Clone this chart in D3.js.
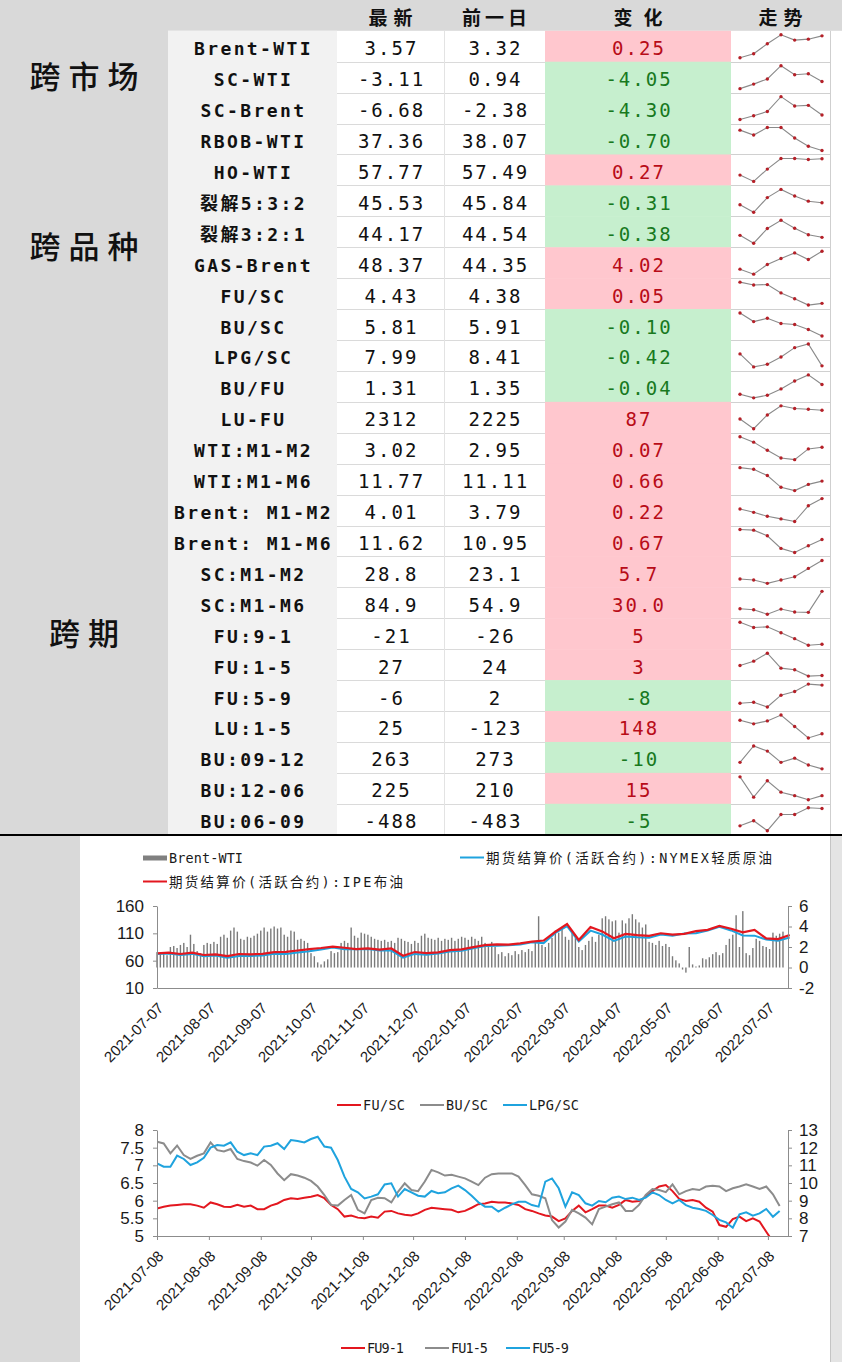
<!DOCTYPE html>
<html>
<head>
<meta charset="utf-8">
<script src="https://cdn.jsdelivr.net/npm/d3@7"></script>
<style>
  body { margin: 0; background: #fff; }
  svg { display: block; }
</style>
</head>
<body>
<div id="chart"></div>
<script>
// ---------- table data ----------
var names = ["Brent-WTI", "SC-WTI", "SC-Brent", "RBOB-WTI", "HO-WTI", "裂解5:3:2", "裂解3:2:1", "GAS-Brent",
    "FU/SC", "BU/SC", "LPG/SC", "BU/FU", "LU-FU", "WTI:M1-M2", "WTI:M1-M6", "Brent: M1-M2", "Brent: M1-M6",
    "SC:M1-M2", "SC:M1-M6", "FU:9-1", "FU:1-5", "FU:5-9", "LU:1-5", "BU:09-12", "BU:12-06", "BU:06-09"];
var latest = ["3.57", "-3.11", "-6.68", "37.36", "57.77", "45.53", "44.17", "48.37", "4.43", "5.81", "7.99", "1.31",
    "2312", "3.02", "11.77", "4.01", "11.62", "28.8", "84.9", "-21", "27", "-6", "25", "263", "225", "-488"];
var previous = ["3.32", "0.94", "-2.38", "38.07", "57.49", "45.84", "44.54", "44.35", "4.38", "5.91", "8.41", "1.35",
    "2225", "2.95", "11.11", "3.79", "10.95", "23.1", "54.9", "-26", "24", "2", "-123", "273", "210", "-483"];
var change = ["0.25", "-4.05", "-4.30", "-0.70", "0.27", "-0.31", "-0.38", "4.02", "0.05", "-0.10", "-0.42", "-0.04",
    "87", "0.07", "0.66", "0.22", "0.67", "5.7", "30.0", "5", "3", "-8", "148", "-10", "15", "-5"];
var headers = ["最新", "前一日", "变化", "走势"];
var groups = [
    { label: "跨市场", from: 0, to: 2 },
    { label: "跨品种", from: 3, to: 10 },
    { label: "跨期", from: 13, to: 25 }
];
// last 7 observations per row (走势)
var trend = [
    [1.92, 2.22, 2.97, 3.65, 3.25, 3.32, 3.57],
    [-6.83, -4.46, -1.76, 5.17, 0.44, 0.94, -3.11],
    [-8.68, -6.97, -5.14, 1.47, -2.68, -2.38, -6.68],
    [40.75, 39.93, 41.18, 41.18, 39.43, 38.07, 37.36],
    [50.91, 48.25, 53.43, 57.91, 57.91, 57.49, 57.77],
    [45.16, 43.73, 46.52, 48.07, 46.83, 45.84, 45.53],
    [44.45, 43.34, 45.41, 46.56, 45.45, 44.54, 44.17],
    [39.68, 37.26, 41.93, 44.83, 47.57, 44.35, 48.37],
    [5.04, 4.96, 4.97, 4.73, 4.56, 4.38, 4.43],
    [6.16, 6.03, 6.08, 6.0, 5.985, 5.91, 5.81],
    [8.22, 7.97, 8.02, 8.16, 8.34, 8.41, 7.99],
    [1.27, 1.255, 1.266, 1.292, 1.325, 1.35, 1.31],
    [2125, 1980, 2185, 2320, 2280, 2270, 2255],
    [3.47, 3.24, 2.89, 2.56, 2.49, 2.95, 3.02],
    [14.48, 14.15, 12.89, 10.52, 9.86, 11.11, 11.77],
    [3.69, 3.59, 3.47, 3.39, 3.31, 3.79, 4.01],
    [12.68, 12.61, 12.01, 10.67, 10.24, 10.95, 11.62],
    [15.5, 14.8, 12.45, 14.8, 17.15, 23.1, 28.8],
    [60.1, 58.7, 52.2, 59.6, 55.5, 54.9, 84.9],
    [91, 64, 67.5, 37.5, 7.4, -26, -21],
    [72, 91.5, 127.5, 60, 52.5, 24, 27],
    [-150, -142, -180, -86, -57, 2, -6],
    [492, 367, 470, 675, 276, -123, 25],
    [280, 323, 309.5, 280, 291, 273, 263],
    [293, 219.5, 279, 237.6, 225, 210, 225],
    [-623, -583, -660.5, -535.5, -535.5, -483, -488]
];

// ---------- chart 1 data: weekly settles from 2021-07-07, spread every 2 days ----------
var brent = [73.4, 74.8, 72.2, 74.7, 70.4, 71.4, 68.2, 72.2, 71.6, 72.6, 75.5, 76.2, 78.6, 81.1, 83.2, 85.8, 83.6, 81.0,
    82.6, 80.3, 82.3, 68.9, 75.8, 73.9, 75.3, 79.2, 80.8, 84.7, 88.4, 89.9, 89.5, 91.6, 94.8, 96.8, 112.9, 127.0, 98.0,
    121.6, 113.5, 101.1, 108.8, 106.8, 105.3, 110.1, 107.5, 109.1, 114.0, 116.3, 123.6, 118.5, 111.7, 116.3, 100.7, 99.6, 106.9];
var wti = [72.2, 73.1, 70.3, 72.4, 68.2, 69.3, 65.5, 68.4, 68.6, 69.3, 72.6, 72.2, 74.8, 77.4, 80.4, 83.9, 81.0, 80.9,
    81.3, 78.4, 78.4, 65.6, 72.4, 70.9, 73.0, 76.6, 77.9, 82.6, 86.9, 87.4, 88.3, 89.7, 93.7, 92.1, 110.6, 123.0, 95.0,
    114.9, 107.8, 96.2, 104.3, 102.8, 102.0, 107.8, 105.7, 109.6, 110.3, 115.3, 122.1, 115.3, 106.2, 105.8, 98.5, 96.3, 102.3];
var spread = [1.5, 1.3, 1.4, 1.2, 2.0, 2.1, 1.9, 2.2, 2.4, 2.0,
    3.2, 2.3, 1.6, 1.4, 2.2, 2.4, 2.3, 2.5, 2.3, 3.0,
    3.2, 2.9, 3.6, 3.9, 3.5, 2.8, 2.7, 3.0, 2.9, 3.1,
    3.3, 3.6, 3.9, 3.5, 3.8, 4.0, 3.8, 3.9, 3.2, 3.0,
    3.6, 3.5, 2.7, 2.8, 2.6, 2.4, 1.4, 1.1, 0.5, 0.3,
    0.6, 0.8, 1.6, 1.4, 1.5, 2.4, 2.6, 2.4, 3.9, 3.1,
    2.9, 3.4, 3.3, 3.2, 3.0, 2.8, 2.7, 2.6, 2.7, 2.5,
    2.6, 2.4, 2.9, 2.8, 2.6, 2.5, 2.3, 2.6, 2.4, 3.1,
    3.3, 2.9, 2.8, 2.7, 2.9, 2.6, 2.8, 2.7, 2.9, 2.6,
    2.8, 3.0, 2.9, 2.7, 3.0, 2.8, 2.6, 3.0, 2.4, 2.2,
    2.5, 2.0, 1.3, 1.5, 1.1, 1.4, 1.2, 1.6, 1.3, 1.7,
    1.5, 1.8, 1.6, 2.4, 5.0, 2.2, 2.0, 2.4, 2.9, 3.6,
    3.4, 3.9, 3.0, 2.7, 3.4, 2.9, 2.0, 1.7, 2.2, 2.6,
    3.0, 2.5, 3.2, 4.8, 5.0, 4.7, 4.5, 4.6, 3.4, 4.6,
    4.3, 4.8, 5.2, 4.7, 4.4, 3.9, 4.2, 2.5, 2.4, 2.2,
    2.6, 2.1, 2.3, 2.0, 1.1, 0.7, 0.4, -0.2, -0.5, 2.0,
    0.3, 0.1, 0.2, 0.9, 0.8, 1.0, 1.3, 1.5, 1.2, 1.4,
    2.2, 2.8, 3.2, 5.1, 2.0, 5.5, 1.4, 1.2, 1.9, 2.8,
    2.6, 2.1, 2.0, 1.8, 3.4, 3.1, 3.3, 3.5];

// ---------- chart 2 data: every 4 days from 2021-07-08 ----------
var fuSc = [5.78, 5.83, 5.86, 5.88, 5.9, 5.9, 5.86, 5.8, 5.95, 5.9,
    5.83, 5.82, 5.88, 5.83, 5.86, 5.76, 5.76, 5.86, 5.92, 6.02,
    6.07, 6.05, 6.08, 6.11, 6.16, 6.07, 5.88, 5.76, 5.55, 5.58,
    5.52, 5.5, 5.55, 5.52, 5.69, 5.71, 5.64, 5.6, 5.58, 5.64,
    5.74, 5.8, 5.78, 5.76, 5.74, 5.67, 5.71, 5.8, 5.9, 5.92,
    5.97, 5.95, 5.95, 5.92, 5.88, 5.76, 5.71, 5.64, 5.58, 5.55,
    5.42, 5.5, 5.71, 5.86, 5.67, 5.76, 5.86, 5.86, 5.8, 5.88,
    6.02, 5.97, 5.99, 6.11, 6.27, 6.4, 6.44, 6.27, 6.05, 5.99,
    6.02, 5.97, 5.8, 5.69, 5.31, 5.26, 5.48, 5.55, 5.42, 5.5,
    5.41, 5.12, 4.84, 4.75];
var buSc = [7.67, 7.62, 7.34, 7.56, 7.29, 7.18, 7.27, 7.34, 7.65, 7.43,
    7.39, 7.46, 7.18, 7.12, 7.08, 6.99, 7.15, 7.01, 6.77, 6.58,
    6.75, 6.71, 6.65, 6.56, 6.4, 6.16, 5.88, 5.86, 6.02, 6.16,
    5.74, 5.64, 6.02, 6.08, 6.07, 5.95, 6.25, 6.49, 6.3, 6.27,
    6.54, 6.87, 6.8, 6.71, 6.73, 6.68, 6.63, 6.54, 6.44, 6.65,
    6.75, 6.77, 6.77, 6.77, 6.68, 6.44, 6.18, 6.14, 6.07, 5.45,
    5.24, 5.41, 5.74, 5.64, 5.52, 5.33, 5.76, 5.83, 5.9, 5.95,
    5.71, 5.71, 5.88, 6.16, 6.33, 6.3, 6.24, 6.46, 6.18, 6.27,
    6.33, 6.3, 6.4, 6.42, 6.4, 6.27, 6.35, 6.4, 6.46, 6.4,
    6.33, 6.4, 6.18, 5.85];
var lpgSc = [11.11, 10.92, 10.92, 11.55, 11.36, 11.02, 11.17, 11.43, 12.0, 12.15,
    12.11, 12.3, 11.77, 11.58, 11.68, 11.58, 12.06, 12.11, 12.25, 11.92,
    12.43, 12.38, 12.3, 12.49, 12.62, 12.06, 12.0, 11.3, 10.36, 9.66,
    9.47, 9.13, 9.23, 9.36, 9.92, 9.98, 9.23, 9.66, 9.47, 9.28,
    9.23, 9.55, 9.42, 9.47, 9.7, 9.85, 9.6, 9.28, 8.91, 8.66,
    8.66, 8.38, 8.6, 8.79, 8.94, 8.94, 8.75, 8.66, 10.08, 10.26,
    9.7, 8.66, 9.47, 9.32, 8.85, 8.72, 8.98, 8.91, 9.17, 9.23,
    9.09, 9.17, 9.04, 9.17, 9.47, 9.32, 9.04, 8.85, 9.04, 8.75,
    8.6, 8.53, 8.42, 8.19, 7.91, 7.77, 7.47, 8.23, 8.34, 8.15,
    8.28, 8.53, 8.09, 8.42];

// ---------- setup ----------
var W = 842, H = 1362;
var cjk = "'Noto Sans CJK SC', sans-serif";
var mono = "'DejaVu Sans Mono', 'Noto Sans CJK SC', monospace";
var sans = "'Liberation Sans', Arial, sans-serif";
var axisColor = "#8c8c8c";

var svg = d3.select("#chart")
    .append("svg")
    .attr("width", W)
    .attr("height", H);

svg.append("rect").attr("width", W).attr("height", H).attr("fill", "#fff");

// ---------- table ----------
var tableTop = 30.8, tableBottom = 834.7;
var row = d3.scaleBand().domain(d3.range(names.length)).range([tableTop, tableBottom]);
var rh = row.bandwidth();
var cols = { name: [168, 337], latest: [337, 444], prev: [444, 545], change: [545, 731], trend: [731, 830] };
function mid(c) { return (c[0] + c[1]) / 2; }

svg.append("rect").attr("width", W).attr("height", tableTop).attr("fill", "#d9d9d9");
svg.append("rect").attr("width", cols.name[0]).attr("height", tableBottom).attr("fill", "#d9d9d9");
svg.append("rect")
    .attr("x", cols.name[0]).attr("y", tableTop)
    .attr("width", cols.name[1] - cols.name[0]).attr("height", tableBottom - tableTop)
    .attr("fill", "#f2f2f2");

// change cells coloured by sign
svg.selectAll("rect.chg")
    .data(change)
    .enter()
    .append("rect")
    .attr("class", "chg")
    .attr("x", cols.change[0])
    .attr("y", function (d, i) { return row(i); })
    .attr("width", cols.change[1] - cols.change[0])
    .attr("height", rh + 0.5)
    .attr("fill", function (d) { return +d > 0 ? "#ffc7ce" : "#c6efce"; });

// grid lines
d3.range(1, names.length).forEach(function (i) {
    var y = Math.round(row(i)) + 0.5;
    svg.append("line").attr("x1", cols.latest[0]).attr("x2", cols.prev[1]).attr("y1", y).attr("y2", y)
        .attr("stroke", "#dadada");
    svg.append("line").attr("x1", cols.trend[0]).attr("x2", cols.trend[1]).attr("y1", y).attr("y2", y)
        .attr("stroke", "#d0d0d0");
});
svg.append("line").attr("x1", 444.5).attr("x2", 444.5).attr("y1", tableTop).attr("y2", tableBottom).attr("stroke", "#e3e3e3");
svg.append("line").attr("x1", 830.5).attr("x2", 830.5).attr("y1", tableTop).attr("y2", tableBottom).attr("stroke", "#cfcfcf");

// headers
var headerCols = [cols.latest, cols.prev, cols.change, cols.trend];
var headerSpacing = [6, 4, 11, 6];
headers.forEach(function (h, i) {
    svg.append("text")
        .attr("x", mid(headerCols[i]) + headerSpacing[i] / 2)
        .attr("y", 25)
        .attr("text-anchor", "middle")
        .style("font-family", cjk)
        .style("font-size", "19px")
        .style("font-weight", 700)
        .style("letter-spacing", headerSpacing[i] + "px")
        .attr("fill", "#111")
        .text(h);
});

// group labels
groups.forEach(function (g) {
    var cy = (row(g.from) + row(g.to) + rh) / 2;
    svg.append("text")
        .attr("x", 84 + 4)
        .attr("y", cy + 11)
        .attr("text-anchor", "middle")
        .style("font-family", cjk)
        .style("font-size", "31px")
        .style("font-weight", 500)
        .style("letter-spacing", "8px")
        .attr("fill", "#111")
        .text(g.label);
});

// row texts
function rowText(arr, c, opts) {
    svg.selectAll(null)
        .data(arr)
        .enter()
        .append("text")
        .attr("x", mid(c) + 1)
        .attr("y", function (d, i) { return row(i) + rh / 2 + 9; })
        .attr("text-anchor", "middle")
        .style("font-family", mono)
        .style("font-size", opts.size)
        .style("font-weight", opts.weight)
        .style("letter-spacing", opts.spacing)
        .attr("fill", opts.fill)
        .text(function (d) { return d; });
}
rowText(names, cols.name, { size: "18px", weight: 700, spacing: "2.4px", fill: "#111" });
rowText(latest, cols.latest, { size: "19px", weight: 400, spacing: "2px", fill: "#111" });
rowText(previous, cols.prev, { size: "19px", weight: 400, spacing: "2px", fill: "#111" });
rowText(change, cols.change, {
    size: "19px", weight: 400, spacing: "2px",
    fill: function (d) { return +d > 0 ? "#b80c18" : "#18791e"; }
});

// sparklines
var sx = d3.scalePoint().domain(d3.range(7)).range([740, 822]);
trend.forEach(function (vals, i) {
    var sy = d3.scaleLinear().domain(d3.extent(vals)).range([row(i) + rh - 4, row(i) + 4]);
    var g = svg.append("g");
    g.append("path")
        .datum(vals)
        .attr("d", d3.line().x(function (d, j) { return sx(j); }).y(function (d) { return sy(d); }))
        .attr("fill", "none")
        .attr("stroke", "#8a8a8a")
        .attr("stroke-width", 1.1);
    g.selectAll("circle")
        .data(vals)
        .enter()
        .append("circle")
        .attr("cx", function (d, j) { return sx(j); })
        .attr("cy", function (d) { return sy(d); })
        .attr("r", 1.7)
        .attr("fill", "#b52028");
});

// separator under table and side strips
svg.append("rect").attr("x", 0).attr("y", 835).attr("width", 80).attr("height", H - 835).attr("fill", "#d9d9d9");
svg.append("rect").attr("x", 831).attr("y", 835).attr("width", W - 831).attr("height", H - 835).attr("fill", "#e4e4e4");
svg.append("line").attr("x1", 830.5).attr("x2", 830.5).attr("y1", 835).attr("y2", H).attr("stroke", "#c4c4c4");
svg.append("line").attr("x1", 0).attr("x2", W).attr("y1", 835).attr("y2", 835).attr("stroke", "#000").attr("stroke-width", 2);

// ---------- shared helpers ----------
function styleAxis(g, size) {
    g.select(".domain").attr("stroke", axisColor);
    g.selectAll(".tick line").attr("stroke", axisColor);
    g.selectAll("text")
        .style("font-family", sans)
        .style("font-size", size)
        .attr("fill", "#1a1a1a");
}
function dateAxis(x, yPos, ticks, tickLen) {
    var g = svg.append("g")
        .attr("transform", "translate(0," + yPos + ")")
        .call(d3.axisBottom(x).tickValues(ticks).tickSize(tickLen).tickSizeOuter(0)
            .tickFormat(d3.timeFormat("%Y-%m-%d")));
    styleAxis(g, "15px");
    g.selectAll("text")
        .attr("x", 0).attr("y", 0).attr("dy", 0)
        .attr("transform", "translate(7,21) rotate(-45)")
        .style("text-anchor", "end");
    return g;
}
function legendItem(x, y, type, color, label, len) {
    if (type === "bar") {
        svg.append("rect").attr("x", x).attr("y", y - 2.5).attr("width", 24).attr("height", 5).attr("fill", color);
    } else {
        svg.append("line").attr("x1", x).attr("x2", x + 24).attr("y1", y).attr("y2", y)
            .attr("stroke", color).attr("stroke-width", 2);
    }
    svg.append("text")
        .attr("x", x + 26)
        .attr("y", y + 5)
        .attr("textLength", len)
        .attr("lengthAdjust", "spacing")
        .style("font-family", mono)
        .style("font-size", "13.5px")
        .attr("fill", "#1a1a1a")
        .text(label);
}

// ---------- chart 1 ----------
var start1 = new Date(2021, 6, 7);
var x1 = d3.scaleTime().domain([start1, new Date(2022, 6, 19)]).range([157, 788]);
var yL1 = d3.scaleLinear().domain([10, 160]).range([988, 906]);
var yR1 = d3.scaleLinear().domain([-2, 6]).range([988, 906]);

svg.append("g")
    .selectAll("rect")
    .data(spread)
    .enter()
    .append("rect")
    .attr("x", function (d, i) { return x1(d3.timeDay.offset(start1, 2 * i)) - 0.7; })
    .attr("width", 1.4)
    .attr("y", function (d) { return Math.min(yR1(d), yR1(0)); })
    .attr("height", function (d) { return Math.abs(yR1(d) - yR1(0)); })
    .attr("fill", "#7a7a7a");

var weekLine = d3.line()
    .x(function (d, i) { return x1(d3.timeDay.offset(start1, 7 * i)); })
    .y(function (d) { return yL1(d); });
svg.append("path").datum(wti).attr("d", weekLine)
    .attr("fill", "none").attr("stroke", "#1fa3de").attr("stroke-width", 2);
svg.append("path").datum(brent).attr("d", weekLine)
    .attr("fill", "none").attr("stroke", "#e3171f").attr("stroke-width", 2.2);

var gl1 = svg.append("g").attr("transform", "translate(157,0)")
    .call(d3.axisLeft(yL1).tickValues([10, 60, 110, 160]).tickSize(4).tickSizeOuter(0).tickPadding(9));
styleAxis(gl1, "17px");
var gr1 = svg.append("g").attr("transform", "translate(788,0)")
    .call(d3.axisRight(yR1).tickValues([-2, 0, 2, 4, 6]).tickSize(4).tickSizeOuter(0).tickPadding(7)
        .tickFormat(function (d) { return String(d); }));
styleAxis(gr1, "17px");
dateAxis(x1, 988, d3.range(13).map(function (i) { return new Date(2021, 6 + i, 7); }), 0);

legendItem(143, 858, "bar", "#808080", "Brent-WTI", 74);
legendItem(460, 857.5, "line", "#1fa3de", "期货结算价(活跃合约):NYMEX轻质原油", 286);
legendItem(143, 881.5, "line", "#e3171f", "期货结算价(活跃合约):IPE布油", 234);

// ---------- chart 2 ----------
var start2 = new Date(2021, 6, 8);
var x2 = d3.scaleTime().domain([start2, new Date(2022, 6, 20)]).range([157, 788]);
var yL2 = d3.scaleLinear().domain([5, 8]).range([1236, 1130]);
var yR2 = d3.scaleLinear().domain([7, 13]).range([1236, 1130]);

svg.append("clipPath").attr("id", "clip2")
    .append("rect").attr("x", 157).attr("y", 1129).attr("width", 631).attr("height", 107);

function line2(y) {
    return d3.line()
        .x(function (d, i) { return x2(d3.timeDay.offset(start2, 4 * i)); })
        .y(function (d) { return y(d); });
}
var plot2 = svg.append("g").attr("clip-path", "url(#clip2)");
plot2.append("path").datum(fuSc).attr("d", line2(yL2))
    .attr("fill", "none").attr("stroke", "#e3171f").attr("stroke-width", 2);
plot2.append("path").datum(buSc).attr("d", line2(yL2))
    .attr("fill", "none").attr("stroke", "#8c8c8c").attr("stroke-width", 2);
plot2.append("path").datum(lpgSc).attr("d", line2(yR2))
    .attr("fill", "none").attr("stroke", "#1fa3de").attr("stroke-width", 2);

var gl2 = svg.append("g").attr("transform", "translate(157,0)")
    .call(d3.axisLeft(yL2).tickValues([5, 5.5, 6, 6.5, 7, 7.5, 8]).tickSize(4).tickSizeOuter(0).tickPadding(9)
        .tickFormat(function (d) { return String(d); }));
styleAxis(gl2, "17px");
var gr2 = svg.append("g").attr("transform", "translate(788,0)")
    .call(d3.axisRight(yR2).tickValues([7, 8, 9, 10, 11, 12, 13]).tickSize(4).tickSizeOuter(0).tickPadding(7)
        .tickFormat(function (d) { return String(d); }));
styleAxis(gr2, "17px");
dateAxis(x2, 1236, d3.range(13).map(function (i) { return new Date(2021, 6 + i, 8); }), 4);

legendItem(337, 1105, "line", "#e3171f", "FU/SC", 42);
legendItem(420, 1105, "line", "#8c8c8c", "BU/SC", 42);
legendItem(503, 1105, "line", "#1fa3de", "LPG/SC", 50);

// ---------- next chart legend (chart body is below the fold) ----------
legendItem(341, 1348, "line", "#e3171f", "FU9-1", 37);
legendItem(425, 1348, "line", "#8c8c8c", "FU1-5", 37);
legendItem(506, 1348, "line", "#1fa3de", "FU5-9", 37);
</script>
</body>
</html>
